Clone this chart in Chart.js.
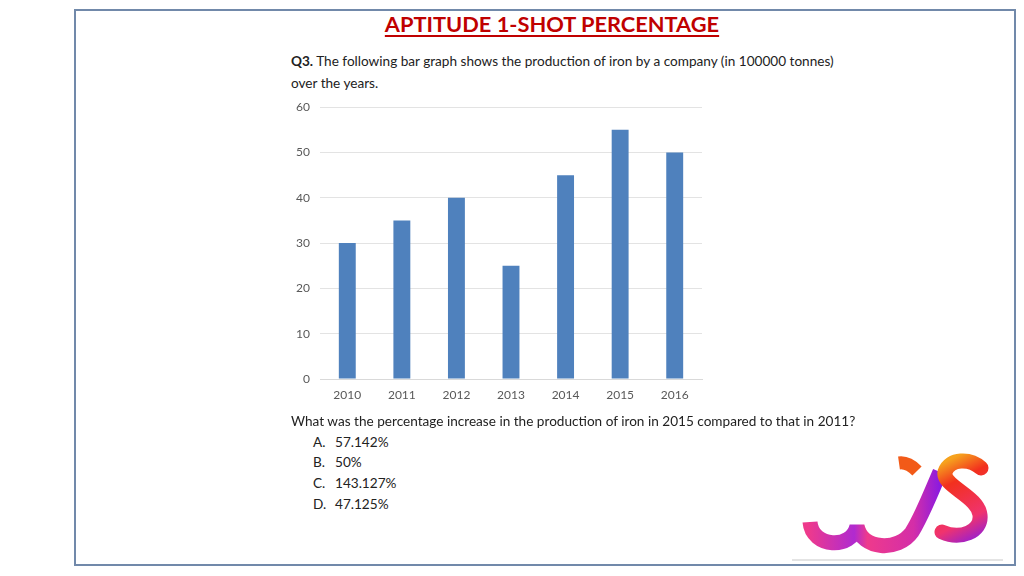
<!DOCTYPE html>
<html>
<head>
<meta charset="utf-8">
<script src="https://cdn.jsdelivr.net/npm/chart.js@4"></script>
<style>
  html, body { margin: 0; padding: 0; background: #fff; }
  body { width: 1024px; height: 576px; position: relative; overflow: hidden; font-family: Lato, "Open Sans", sans-serif; color: #222; }
  .frame { position: absolute; left: 74px; top: 9px; width: 942px; height: 557px; border: 2px solid #7189aa; box-sizing: border-box; }
  .title { position: absolute; left: 0; width: 1104px; top: 10px; text-align: center; font-size: 21.8px; font-weight: bold; color: #c00000; text-decoration: underline; text-underline-offset: 3px; }
  .txt { position: absolute; font-size: 13.6px; white-space: nowrap; }
  #wrap { position: absolute; left: 280px; top: 90px; width: 430px; height: 325px; }
  svg { position: absolute; left: 0; top: 0; }
</style>
</head>
<body>
<div class="frame"></div>
<div class="title">APTITUDE 1-SHOT PERCENTAGE</div>
<div class="txt" style="left:291px;top:53px;"><b>Q3.</b> The following bar graph shows the production of iron by a company (in 100000 tonnes)</div>
<div class="txt" style="left:291px;top:75px;">over the years.</div>
<div id="wrap"><canvas id="ironChart" width="430" height="325"></canvas></div>
<div class="txt" style="left:291px;top:413px;">What was the percentage increase in the production of iron in 2015 compared to that in 2011?</div>
<div class="txt" style="left:313px;top:434px;">A.</div><div class="txt" style="left:335px;top:434px;">57.142%</div>
<div class="txt" style="left:313px;top:454px;">B.</div><div class="txt" style="left:335px;top:454px;">50%</div>
<div class="txt" style="left:313px;top:475px;">C.</div><div class="txt" style="left:335px;top:475px;">143.127%</div>
<div class="txt" style="left:313px;top:496px;">D.</div><div class="txt" style="left:335px;top:496px;">47.125%</div>

<svg width="1024" height="576">
  <defs>
    <linearGradient id="g1" x1="808" y1="0" x2="940" y2="0" gradientUnits="userSpaceOnUse">
      <stop offset="0" stop-color="#ee3a8c"/>
      <stop offset="0.35" stop-color="#b02ad0"/>
      <stop offset="0.45" stop-color="#ee3a8c"/>
      <stop offset="0.8" stop-color="#d42ea8"/>
      <stop offset="1" stop-color="#8a1be0"/>
    </linearGradient>
    <linearGradient id="g2" x1="945" y1="462" x2="985" y2="540" gradientUnits="userSpaceOnUse">
      <stop offset="0" stop-color="#f6a21e"/>
      <stop offset="0.25" stop-color="#f2301e"/>
      <stop offset="0.7" stop-color="#f0336e"/>
      <stop offset="1" stop-color="#8a1be0"/>
    </linearGradient>
  </defs>
  <path d="M810 522 C812 548 852 550 857 526 C862 550 898 552 912 532 C922 516 930 495 940 472" fill="none" stroke="url(#g1)" stroke-width="15" stroke-linecap="butt"/>
  <path d="M899 463 C906 462 912 466 917 471" fill="none" stroke="#f25a18" stroke-width="13"/>
  <path d="M981 468 C970 458 950 458 945 472 C942 486 978 496 980 515 C982 532 960 540 942 532" fill="none" stroke="url(#g2)" stroke-width="15" stroke-linecap="round"/>
  <line x1="792" y1="560" x2="1003" y2="560" stroke="#c8c8c8" stroke-width="1"/>
</svg>

<script>
const years = ['2010', '2011', '2012', '2013', '2014', '2015', '2016'];
const production = [30, 35, 40, 25, 45, 55, 50];
const yTicks = [0, 10, 20, 30, 40, 50, 60];

const ctx = document.getElementById('ironChart').getContext('2d');
new Chart(ctx, {
  type: 'bar',
  data: {
    labels: years,
    datasets: [{
      label: 'Production',
      data: production,
      backgroundColor: '#4f81bd',
      barPercentage: 0.62,
      categoryPercentage: 0.5,
    }],
  },
  options: {
    responsive: false,
    animation: false,
    layout: { padding: { top: 1, right: 8, left: 0, bottom: 0 } },
    plugins: { legend: { display: false }, tooltip: { enabled: false } },
    scales: {
      x: {
        grid: { display: false },
        border: { display: true, color: '#d9d9d9' },
        ticks: { color: '#595959', font: { family: 'Lato', size: 12 }, padding: 1 },
        afterFit: (scale) => { scale.height = 36; },
      },
      y: {
        min: 0,
        max: 60,
        afterBuildTicks: (scale) => { scale.ticks = yTicks.map(v => ({ value: v })); },
        grid: { color: '#e3e3e3', drawTicks: false },
        border: { display: false },
        ticks: { color: '#595959', font: { family: 'Lato', size: 12 }, padding: 10 },
        afterFit: (scale) => { scale.width = 40; },
      },
    },
  },
});
</script>
</body>
</html>
